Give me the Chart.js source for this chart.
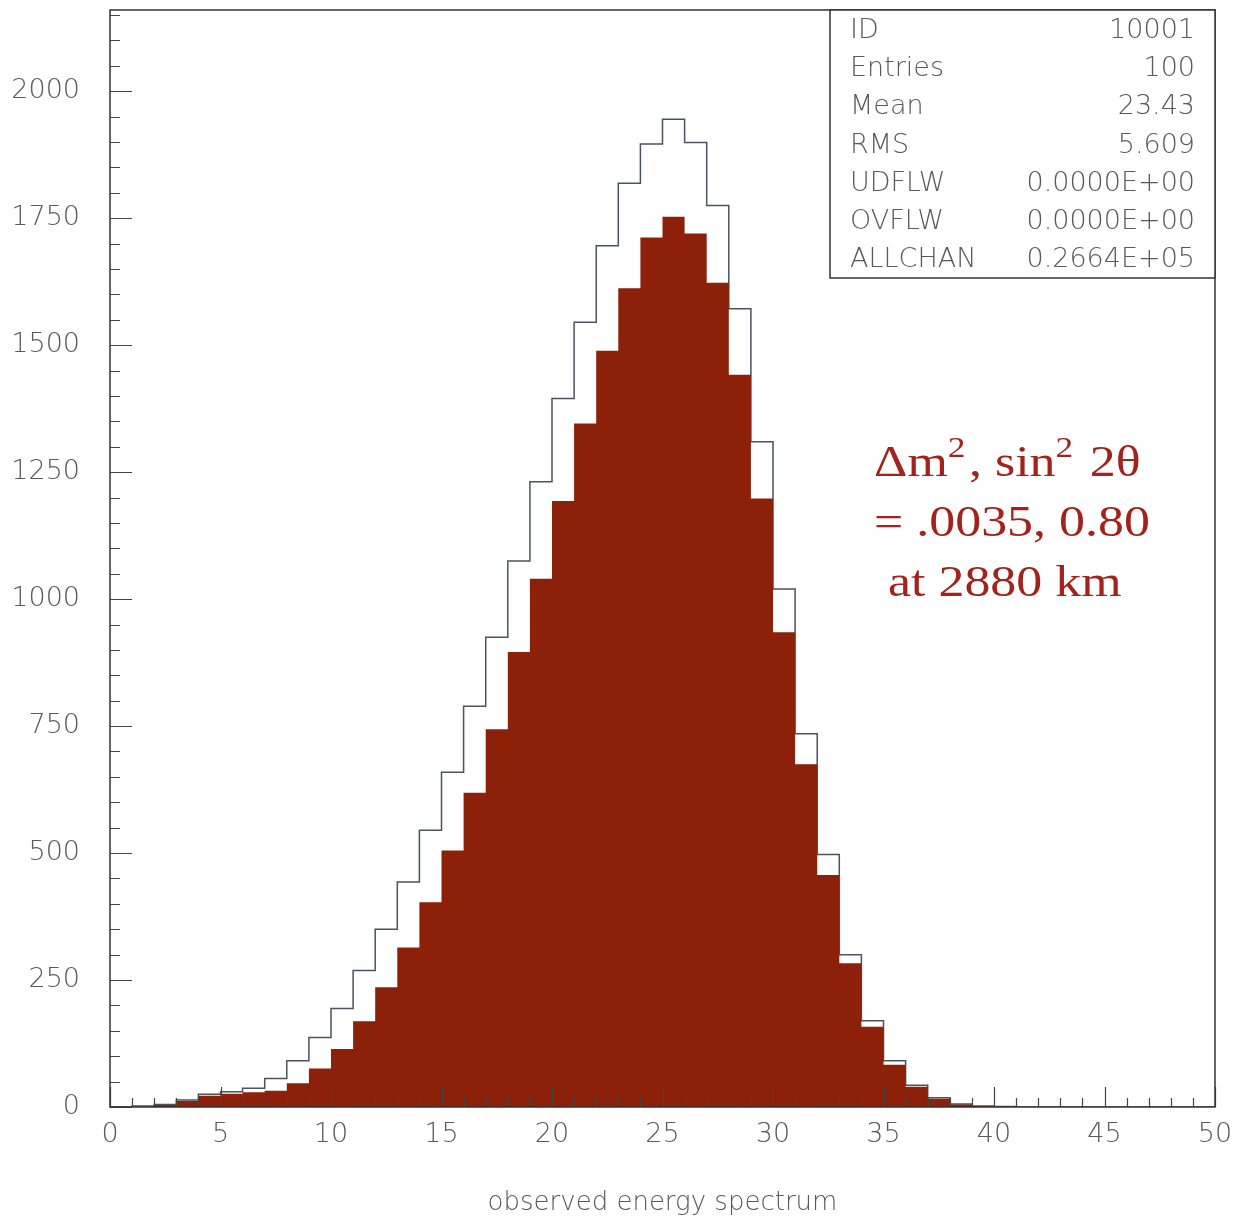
<!DOCTYPE html>
<html>
<head>
<meta charset="utf-8">
<script src="https://cdn.jsdelivr.net/npm/chart.js@4.4.1/dist/chart.umd.min.js"></script>
<style>
  html, body { margin: 0; padding: 0; background: #fff; }
  #wrap { width: 1235px; height: 1219px; }
</style>
</head>
<body>
<div id="wrap"><canvas id="spectrum"></canvas></div>
<script>
// ─── Histogram contents (bin i covers [i, i+1)) ──────────────
const nBins = 50;
const unoscillated = [
  0, 2, 5, 14, 25, 30, 37, 56, 91, 137,
  194, 269, 350, 443, 545, 659, 789, 925, 1075, 1231,
  1395, 1545, 1696, 1819, 1896, 1945, 1899, 1775, 1572, 1310,
  1020, 735, 497, 300, 170, 91, 43, 18, 6, 2,
  1, 0, 0, 0, 0, 0, 0, 0, 0, 0
];
const oscillated = [
  0, 1, 4, 12, 22, 26, 29, 32, 47, 76,
  114, 169, 236, 314, 403, 505, 619, 744, 896, 1040,
  1193, 1346, 1489, 1612, 1712, 1753, 1720, 1623, 1442, 1198,
  935, 675, 457, 283, 158, 83, 40, 16, 5, 2,
  1, 0, 0, 0, 0, 0, 0, 0, 0, 0
];

const statLabels = ['ID', 'Entries', 'Mean', 'RMS', 'UDFLW', 'OVFLW', 'ALLCHAN'];
const statValues = ['10001', '100', '23.43', '5.609', '0.0000E+00', '0.0000E+00', '0.2664E+05'];

const xTitle = 'observed energy spectrum';
const yMax = 2160;

const INK  = '#5a5a5a';
const FONT = '"DejaVu Sans", sans-serif';
const SERIF = '"Liberation Serif", "Times New Roman", serif';

// step points at the bin edges, last edge closes the outline
function stepPoints(values) {
  const pts = values.map((v, i) => ({ x: i, y: v }));
  pts.push({ x: nBins, y: 0 });
  return pts;
}

// ─── Frame, inward ticks, stats box, annotation ─────────────
const hbookFrame = {
  id: 'hbookFrame',
  afterDatasetsDraw(chart) {
    const { ctx, chartArea: a, scales: { x, y } } = chart;
    ctx.save();

    // ticks pointing into the plot
    ctx.strokeStyle = '#444';
    ctx.lineWidth = 1.2;
    ctx.beginPath();
    for (let v = 0; v <= yMax; v += 50) {
      const py = Math.round(y.getPixelForValue(v)) + 0.5;
      const len = v % 250 === 0 ? 22 : 10;
      ctx.moveTo(a.left, py);
      ctx.lineTo(a.left + len, py);
    }
    for (let v = 0; v <= nBins; v += 1) {
      const px = Math.round(x.getPixelForValue(v)) + 0.5;
      const len = v % 5 === 0 ? 20 : 9;
      ctx.moveTo(px, a.bottom);
      ctx.lineTo(px, a.bottom - len);
    }
    ctx.stroke();

    // plot frame
    ctx.strokeStyle = '#333';
    ctx.lineWidth = 1.5;
    ctx.strokeRect(a.left, a.top, a.right - a.left, a.bottom - a.top);

    // statistics box in the top right corner
    const boxL = 830, boxB = 278;
    ctx.fillStyle = '#fff';
    ctx.fillRect(boxL, a.top, a.right - boxL, boxB - a.top);
    ctx.strokeRect(boxL, a.top, a.right - boxL, boxB - a.top);
    ctx.fillStyle = INK;
    ctx.font = '200 27px ' + FONT;
    ctx.textBaseline = 'middle';
    statLabels.forEach((lab, i) => {
      const ty = 31 + i * 38.2;
      ctx.textAlign = 'left';
      ctx.fillText(lab, 850, ty);
      ctx.textAlign = 'right';
      ctx.fillText(statValues[i], 1195, ty);
    });

    // oscillation parameters, set in a wide serif
    ctx.fillStyle = '#a3221b';
    ctx.textAlign = 'left';
    ctx.textBaseline = 'alphabetic';
    const big = '44px ' + SERIF;
    const sup = '30px ' + SERIF;
    const stretch = 1.18;
    const line = (runs, x0, base) => {
      ctx.save();
      ctx.translate(x0, base);
      ctx.scale(stretch, 1);
      let cx = 0;
      runs.forEach(([t, f, dy, gap]) => {
        ctx.font = f;
        ctx.fillText(t, cx, dy);
        cx += ctx.measureText(t).width + gap;
      });
      ctx.restore();
    };
    line([['Δm', big, 0, 0], ['2', sup, -19, 3], [', sin', big, 0, 0], ['2', sup, -19, 3], [' 2θ', big, 0, 0]], 874, 476);
    line([['= .0035, 0.80', big, 0, 0]], 874, 536);
    line([['at 2880 km', big, 0, 0]], 888, 596);

    ctx.restore();
  }
};

new Chart(document.getElementById('spectrum'), {
  type: 'line',
  data: {
    datasets: [
      {
        label: 'oscillated',
        data: stepPoints(oscillated),
        stepped: 'before',
        fill: 'origin',
        backgroundColor: '#8d2008',
        borderColor: '#8d2008',
        borderWidth: 0,
        pointRadius: 0,
      },
      {
        label: 'no oscillation',
        data: stepPoints(unoscillated),
        stepped: 'before',
        fill: false,
        borderColor: '#4b5260',
        borderWidth: 1.5,
        pointRadius: 0,
      }
    ]
  },
  options: {
    responsive: true,
    maintainAspectRatio: false,
    animation: false,
    layout: { padding: { top: 10, right: 20, left: 0, bottom: 0 } },
    plugins: {
      legend: { display: false },
      tooltip: { enabled: false },
    },
    scales: {
      x: {
        type: 'linear',
        min: 0,
        max: nBins,
        grid: { display: false, drawTicks: false },
        border: { display: false },
        ticks: {
          stepSize: 5,
          includeBounds: false,
          padding: 12,
          color: INK,
          font: { family: FONT, size: 27, weight: '200' },
          maxRotation: 0,
          callback: v => String(v),
        },
        title: {
          display: true,
          text: xTitle,
          color: INK,
          font: { family: FONT, size: 26, weight: '200' },
          padding: { top: 0, bottom: 0 },
        },
        afterFit: s => {
          s.height = 112;
          s.paddingLeft = 0;
          s.paddingRight = 0;
        },
      },
      y: {
        type: 'linear',
        min: 0,
        max: yMax,
        grid: { display: false, drawTicks: false },
        border: { display: false },
        ticks: {
          stepSize: 250,
          includeBounds: false,
          padding: 30,
          color: INK,
          font: { family: FONT, size: 27, weight: '200' },
          callback: v => String(v),
        },
        afterFit: s => {
          s.width = 110;
          s.paddingTop = 0;
          s.paddingBottom = 0;
        },
      }
    }
  },
  plugins: [hbookFrame]
});
</script>
</body>
</html>
